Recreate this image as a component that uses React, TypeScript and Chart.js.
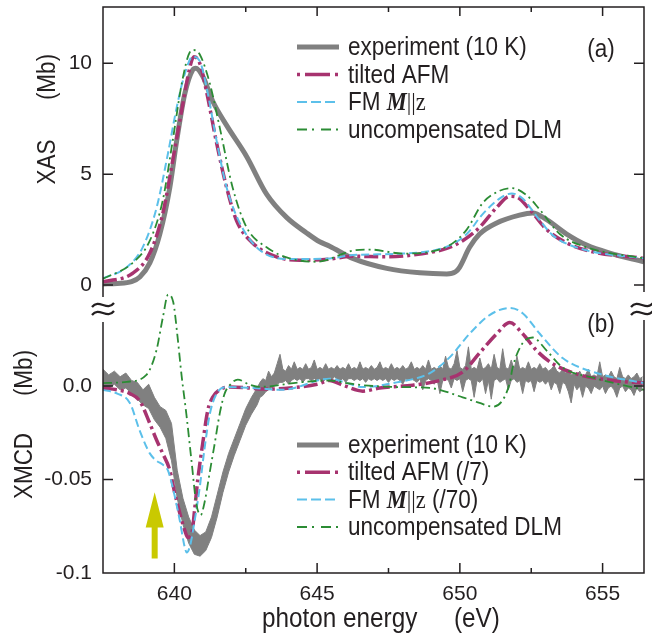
import React, { useEffect, useRef } from 'react';
import { Chart, registerables } from 'chart.js';

Chart.register(...registerables);

// ---------------- axis ranges and ticks ----------------
const X_MIN = 637.5;
const X_MAX = 656.45;
const XAS_MIN = -0.54;
const XAS_MAX = 12.54;
const XMCD_MIN = -0.1;
const XMCD_MAX = 0.0343;

const xMajorTicks = [640, 645, 650, 655];
const xMinorTicks = [642.5, 647.5, 652.5];
const xTickLabels = ['640', '645', '650', '655'];
const xasTicks = [0, 5, 10];
const xasTickLabels = ['0', '5', '10'];
const xmcdTicks = [-0.1, -0.05, 0];
const xmcdTickLabels = ['-0.1', '-0.05', '0.0'];

// ---------------- panel (a) XAS ----------------
const xasExpE = [637.5, 638.0, 638.5, 638.79, 639.14, 639.49, 639.84, 640.08, 640.36, 640.64, 640.75, 641.0, 641.34, 641.83, 642.53, 643.23, 643.93, 644.63, 645.09, 645.44, 646.25, 647.44, 648.6, 649.54, 649.85, 649.99, 650.34, 650.69, 651.29, 652.09, 652.55, 653.04, 653.74, 654.44, 655.25, 656.45];
const xasExpY = [0.05, 0.07, 0.15, 0.36, 1.0, 2.3, 4.4, 6.5, 8.6, 9.7, 9.78, 9.4, 8.3, 7.2, 5.8, 4.1, 3.05, 2.35, 1.95, 1.75, 1.2, 0.75, 0.55, 0.5, 0.6, 0.8, 1.7, 2.3, 2.8, 3.15, 3.25, 2.95, 2.3, 1.8, 1.44, 1.05];

const xasAfmE = [637.5, 638.54, 639.14, 639.59, 639.94, 640.26, 640.54, 640.68, 640.89, 641.13, 641.48, 641.83, 642.18, 642.74, 643.58, 644.39, 645.44, 646.25, 647.44, 648.6, 649.54, 650.1, 650.69, 651.29, 651.75, 651.99, 652.45, 653.04, 653.74, 654.65, 656.45];
const xasAfmY = [0.14, 0.53, 1.44, 3.2, 5.6, 7.9, 9.8, 10.3, 10.0, 8.7, 6.4, 4.4, 2.9, 1.9, 1.27, 1.12, 1.17, 1.3, 1.27, 1.4, 1.65, 2.0, 2.6, 3.5, 4.0, 3.97, 3.4, 2.5, 1.9, 1.5, 1.2];

const xasFmE = [637.5, 638.33, 638.89, 639.38, 639.77, 640.08, 640.36, 640.64, 640.89, 641.13, 641.48, 641.83, 642.29, 642.99, 644.14, 645.44, 646.25, 648.0, 649.54, 650.24, 650.8, 651.39, 651.82, 652.2, 652.69, 653.25, 654.2, 656.45];
const xasFmY = [0.3, 0.8, 1.7, 3.5, 5.9, 8.0, 9.5, 10.3, 10.1, 8.9, 6.5, 4.4, 2.8, 1.58, 1.17, 1.2, 1.35, 1.42, 1.73, 2.3, 3.2, 3.9, 4.13, 3.9, 3.1, 2.25, 1.65, 1.2];

const xasDlmE = [637.5, 638.54, 639.14, 639.59, 639.94, 640.26, 640.54, 640.68, 640.89, 641.24, 641.59, 642.04, 642.53, 643.23, 644.04, 644.99, 646.25, 646.85, 648.0, 649.54, 650.24, 650.8, 651.39, 651.82, 652.34, 652.8, 653.5, 654.44, 656.45];
const xasDlmY = [0.28, 1.0, 2.0, 3.8, 6.5, 9.1, 10.5, 10.6, 10.4, 9.1, 7.1, 4.4, 2.6, 1.7, 1.2, 1.05, 1.55, 1.6, 1.42, 1.73, 2.5, 3.7, 4.25, 4.37, 4.05, 3.4, 2.3, 1.7, 1.2];

// ---------------- panel (b) XMCD ----------------
// experiment: noisy band given by its lower and upper edge
const xmcdExpE = [
  637.5, 637.7, 637.9, 638.1, 638.3, 638.5, 638.7, 638.9, 639.1, 639.3, 639.5, 639.7, 639.9, 640.1, 640.3, 640.5, 640.7, 640.9, 641.1, 641.3, 641.5, 641.7, 641.9, 642.1, 642.3, 642.5, 642.7, 642.9,
  643.0, 643.1, 643.2, 643.3, 643.4, 643.5, 643.6, 643.7, 643.8, 643.9,
  644.0, 644.1, 644.2, 644.3, 644.4, 644.5, 644.6, 644.7, 644.8, 644.9,
  645.0, 645.1, 645.2, 645.3, 645.4, 645.5, 645.6, 645.7, 645.8, 645.9,
  646.0, 646.1, 646.2, 646.3, 646.4, 646.5, 646.6, 646.7, 646.8, 646.9,
  647.0, 647.1, 647.2, 647.3, 647.4, 647.5, 647.6, 647.7, 647.8, 647.9,
  648.0, 648.1, 648.2, 648.3, 648.4, 648.5, 648.6, 648.7, 648.8, 648.9,
  649.0, 649.1, 649.2, 649.3, 649.4, 649.5, 649.6, 649.7, 649.8, 649.9,
  650.0, 650.1, 650.2, 650.3, 650.4, 650.5, 650.6, 650.7, 650.8, 650.9,
  651.0, 651.1, 651.2, 651.3, 651.4, 651.5, 651.6, 651.7, 651.8, 651.9,
  652.0, 652.1, 652.2, 652.3, 652.4, 652.5, 652.6, 652.7, 652.8, 652.9,
  653.0, 653.1, 653.2, 653.3, 653.4, 653.5, 653.6, 653.7, 653.8, 653.9,
  654.0, 654.1, 654.2, 654.3, 654.4, 654.5, 654.6, 654.7, 654.8, 654.9,
  655.0, 655.1, 655.2, 655.3, 655.4, 655.5, 655.6, 655.7, 655.8, 655.9,
  656.0, 656.1, 656.2, 656.3, 656.4,
];
const xmcdExpLo = [
  0.0, -0.001, 0.001, -0.002, -0.001, -0.004, -0.007, -0.010, -0.012, -0.018, -0.022, -0.028, -0.040, -0.060, -0.074, -0.084, -0.090, -0.091, -0.088, -0.081, -0.070, -0.057, -0.046, -0.037, -0.029, -0.021, -0.015, -0.010,
  -0.006, -0.005, -0.003, -0.002, -0.001, 0.000, 0.001, 0.002, 0.002, 0.003,
  0.001, 0.003, 0.004, 0.003, 0.004, 0.002, 0.004, 0.004, 0.003, 0.004,
  0.003, 0.004, 0.002, 0.004, 0.004, 0.003, 0.005, 0.004, 0.003, 0.004,
  0.002, 0.004, 0.004, 0.003, 0.004, 0.003, 0.004, 0.002, 0.004, 0.003,
  0.004, 0.003, 0.004, 0.003, 0.004, 0.002, 0.004, 0.003, 0.004, 0.003,
  0.001, 0.004, 0.003, 0.004, 0.003, 0.002, 0.004, -0.002, 0.003, 0.004,
  0.003, 0.001, 0.004, -0.004, 0.003, 0.004, 0.003, -0.001, 0.004, 0.003,
  0.004, -0.003, 0.003, 0.004, 0.003, -0.006, 0.003, 0.002, 0.004, -0.004,
  0.003, -0.007, 0.003, 0.004, 0.002, 0.003, 0.004, -0.002, 0.003, 0.004,
  0.002, 0.003, -0.004, 0.003, 0.002, 0.003, -0.003, 0.003, 0.002, 0.003,
  0.001, 0.003, -0.002, 0.002, 0.001, -0.004, 0.002, 0.001, -0.003, -0.009,
  0.001, -0.002, 0.000, -0.006, 0.000, -0.001, -0.004, 0.000, -0.001, -0.002,
  0.000, -0.004, -0.001, 0.000, -0.002, -0.006, -0.001, 0.000, -0.003, -0.001,
  -0.002, -0.005, -0.001, -0.003, -0.002,
];
const xmcdExpHi = [
  0.009, 0.006, 0.008, 0.005, 0.007, 0.003, 0.002, -0.002, 0.001, -0.006, -0.011, -0.013, -0.020, -0.045, -0.060, -0.070, -0.077, -0.080, -0.078, -0.070, -0.058, -0.046, -0.036, -0.028, -0.020, -0.012, -0.006, -0.001,
  0.002, 0.004, 0.003, 0.008, 0.005, 0.007, 0.012, 0.017, 0.009, 0.008,
  0.011, 0.009, 0.013, 0.009, 0.010, 0.009, 0.012, 0.009, 0.010, 0.014,
  0.009, 0.010, 0.009, 0.012, 0.009, 0.010, 0.009, 0.011, 0.009, 0.010,
  0.009, 0.012, 0.009, 0.010, 0.009, 0.013, 0.009, 0.010, 0.009, 0.011,
  0.009, 0.010, 0.013, 0.009, 0.010, 0.009, 0.012, 0.009, 0.010, 0.009,
  0.011, 0.009, 0.010, 0.013, 0.009, 0.010, 0.009, 0.011, 0.009, 0.014,
  0.009, 0.010, 0.009, 0.011, 0.009, 0.016, 0.010, 0.009, 0.012, 0.019,
  0.010, 0.009, 0.011, 0.021, 0.009, 0.010, 0.009, 0.015, 0.009, 0.010,
  0.012, 0.009, 0.017, 0.010, 0.009, 0.020, 0.010, 0.009, 0.014, 0.009,
  0.016, 0.009, 0.010, 0.009, 0.013, 0.009, 0.010, 0.009, 0.012, 0.009,
  0.010, 0.008, 0.009, 0.011, 0.008, 0.007, 0.009, 0.007, 0.008, 0.006,
  0.007, 0.006, 0.008, 0.005, 0.006, 0.009, 0.005, 0.006, 0.005, 0.013,
  0.005, 0.006, 0.005, 0.008, 0.005, 0.004, 0.010, 0.005, 0.004, 0.006,
  0.004, 0.005, 0.007, 0.004, 0.005,
];

const xmcdAfmE = [637.5, 638.0, 638.44, 638.79, 639.14, 639.38, 639.59, 639.84, 640.01, 640.19, 640.36, 640.47, 640.61, 640.71, 640.82, 640.99, 641.17, 641.34, 641.59, 641.94, 642.6, 643.09, 644.04, 645.0, 645.44, 645.9, 646.6, 647.19, 648.35, 649.29, 650.1, 650.69, 651.29, 651.75, 652.2, 652.69, 653.25, 654.2, 655.35, 656.45];
const xmcdAfmY = [-0.001, -0.002, -0.004, -0.008, -0.020, -0.029, -0.036, -0.045, -0.057, -0.068, -0.077, -0.081, -0.079, -0.066, -0.050, -0.031, -0.013, -0.006, -0.002, -0.0005, -0.001, -0.0016, -0.001, 0.001, 0.003, 0.0005, -0.0027, -0.001, 0.0005, 0.003, 0.0075, 0.0177, 0.028, 0.034, 0.028, 0.019, 0.012, 0.006, 0.003, 0.0016];

const xmcdFmE = [637.5, 638.0, 638.44, 638.79, 639.14, 639.38, 639.59, 639.77, 639.94, 640.19, 640.36, 640.43, 640.54, 640.71, 640.89, 641.06, 641.24, 641.48, 641.83, 642.74, 643.79, 645.44, 646.04, 646.6, 647.79, 648.95, 649.65, 650.34, 651.04, 651.75, 652.2, 652.8, 653.6, 654.79, 656.45];
const xmcdFmY = [-0.002, -0.004, -0.009, -0.024, -0.036, -0.040, -0.042, -0.045, -0.054, -0.072, -0.086, -0.089, -0.086, -0.072, -0.054, -0.033, -0.015, -0.004, -0.0005, -0.001, -0.002, 0.004, 0.0016, -0.0005, 0.002, 0.007, 0.0155, 0.028, 0.038, 0.0418, 0.039, 0.028, 0.015, 0.007, 0.0016];

const xmcdDlmE = [637.5, 638.33, 639.02, 639.37, 639.6, 639.78, 639.96, 640.1, 640.25, 640.42, 640.6, 640.77, 640.92, 641.06, 641.24, 641.41, 641.59, 641.76, 641.94, 642.22, 642.6, 642.99, 644.39, 645.44, 646.04, 646.6, 647.79, 648.95, 650.1, 650.69, 651.15, 651.5, 651.75, 651.85, 652.2, 652.55, 653.04, 653.6, 654.79, 656.45];
const xmcdDlmY = [0.0016, 0.0023, 0.006, 0.019, 0.037, 0.049, 0.045, 0.028, 0.006, -0.015, -0.040, -0.063, -0.069, -0.062, -0.046, -0.031, -0.0146, -0.004, 0.0005, 0.0035, 0.001, -0.0004, 0.002, 0.003, 0.0016, 0.0005, -0.0005, -0.001, -0.006, -0.009, -0.011, -0.0075, 0.002, 0.010, 0.023, 0.026, 0.019, 0.010, 0.004, -0.002];

// arrow annotation (eV, XMCD units)
const ARROW_E = 639.31;
const ARROW_TIP = -0.0568;
const ARROW_HEAD = -0.0756;
const ARROW_BASE = -0.0922;

// ---------------- styles ----------------
const SANS = '"Liberation Sans", Arial, Helvetica, sans-serif';
const SERIF = '"Liberation Serif", "Times New Roman", serif';
const INK = '#231f20';
const GRAY = '#808080';
const MAGENTA = '#a7336f';
const BLUE = '#5cc0ea';
const GREEN = '#2b8c34';
const YELLOW = '#c9c900';
const SQ = 0.9; // horizontal squeeze for text

const xy = (xs: number[], ys: number[]) => xs.map((x, i) => ({ x, y: ys[i] }));

function txt(ctx: CanvasRenderingContext2D, s: string, x: number, y: number, font: string, align: CanvasTextAlign = 'left', baseline: CanvasTextBaseline = 'alphabetic', rot = 0) {
  ctx.save();
  ctx.translate(x, y);
  if (rot) ctx.rotate(rot);
  ctx.scale(SQ, 1);
  ctx.font = font;
  ctx.fillStyle = INK;
  ctx.textAlign = align;
  ctx.textBaseline = baseline;
  ctx.fillText(s, 0, 0);
  const w = ctx.measureText(s).width * SQ;
  ctx.restore();
  return w;
}

type Part = { t: string; f: string };
type Row = { color: string; width: number; dash: number[]; parts: Part[] };

const F = `25px ${SANS}`;
const FM_ITAL = `italic bold 25px ${SERIF}`;
const FM_SERIF = `25px ${SERIF}`;

function drawLegend(ctx: CanvasRenderingContext2D, rows: Row[], baselines: number[]) {
  rows.forEach((r, i) => {
    const b = baselines[i];
    const ly = b - 8;
    ctx.save();
    ctx.strokeStyle = r.color;
    ctx.lineWidth = r.width;
    ctx.setLineDash(r.dash);
    ctx.beginPath();
    ctx.moveTo(297, ly);
    ctx.lineTo(339, ly);
    ctx.stroke();
    ctx.restore();
    let x = 348;
    r.parts.forEach((p) => {
      x += txt(ctx, p.t, x, b, p.f);
    });
  });
}

function tilde(ctx: CanvasRenderingContext2D, cx: number, cy: number) {
  ctx.save();
  ctx.strokeStyle = INK;
  ctx.lineWidth = 2.2;
  [cy - 4, cy + 4].forEach((yc) => {
    ctx.beginPath();
    ctx.moveTo(cx - 11, yc + 2);
    ctx.bezierCurveTo(cx - 4, yc - 7, cx + 4, yc + 7, cx + 11, yc - 2);
    ctx.stroke();
  });
  ctx.restore();
}

const xTickCfg = (showLabels: boolean) => ({
  type: 'linear' as const,
  min: X_MIN,
  max: X_MAX,
  grid: { display: false, drawTicks: false },
  border: { display: false },
  afterBuildTicks: (s: any) => {
    s.ticks = [...xMajorTicks, ...xMinorTicks].sort((a, b) => a - b).map((v) => ({ value: v }));
  },
  afterFit: (s: any) => {
    s.paddingLeft = 0;
    s.paddingRight = 0;
    s.height = showLabels ? 66 : 0;
  },
  ticks: {
    display: showLabels,
    padding: 9,
    color: INK,
    font: { family: SANS, size: 21 },
    maxRotation: 0,
    autoSkip: false,
    callback: (v: any) => {
      const i = xMajorTicks.indexOf(Number(v));
      return i >= 0 ? xTickLabels[i] : '';
    },
  },
});

const yTickCfg = (min: number, max: number, vals: number[], labels: string[]) => ({
  type: 'linear' as const,
  min,
  max,
  grid: { display: false, drawTicks: false },
  border: { display: false },
  afterBuildTicks: (s: any) => {
    s.ticks = vals.map((v) => ({ value: v }));
  },
  afterFit: (s: any) => {
    s.width = 103;
    s.paddingTop = 0;
    s.paddingBottom = 0;
  },
  ticks: {
    padding: 11,
    color: INK,
    font: { family: SANS, size: 21 },
    autoSkip: false,
    callback: (v: any) => {
      const i = vals.findIndex((t) => Math.abs(t - Number(v)) < 1e-9);
      return i >= 0 ? labels[i] : '';
    },
  },
});

const lineDs = (label: string, data: any[], color: string, width: number, dash: number[], order: number, clip = true) => ({
  label,
  data,
  borderColor: color,
  backgroundColor: color,
  borderWidth: width,
  borderDash: dash,
  pointRadius: 0,
  fill: false,
  cubicInterpolationMode: 'monotone' as const,
  order,
  ...(clip ? {} : { clip: false as any }),
});

const topDecor = {
  id: 'topDecor',
  afterDraw(chart: any) {
    const { ctx, chartArea: ca, scales } = chart;
    const xs = scales.x;
    const ys = scales.y;
    ctx.save();
    ctx.strokeStyle = INK;
    ctx.lineWidth = 1.5;
    ctx.beginPath();
    ctx.moveTo(ca.left, ca.bottom);
    ctx.lineTo(ca.left, ca.top);
    ctx.lineTo(ca.right, ca.top);
    ctx.lineTo(ca.right, ca.bottom - 5);
    xs.ticks.forEach((t: any) => {
      const px = xs.getPixelForValue(t.value);
      const len = xMajorTicks.includes(t.value) ? 9 : 5;
      ctx.moveTo(px, ca.top);
      ctx.lineTo(px, ca.top + len);
    });
    ys.ticks.forEach((t: any) => {
      const py = ys.getPixelForValue(t.value);
      ctx.moveTo(ca.left, py);
      ctx.lineTo(ca.left + 10, py);
      ctx.moveTo(ca.right, py);
      ctx.lineTo(ca.right - 10, py);
    });
    ctx.stroke();
    ctx.restore();

    txt(ctx, 'XAS', 55, 162, F, 'center', 'alphabetic', -Math.PI / 2);
    txt(ctx, '(Mb)', 55, 77, F, 'center', 'alphabetic', -Math.PI / 2);
    txt(ctx, '(a)', 601, 57, F, 'center', 'alphabetic');

    drawLegend(ctx, [
      { color: GRAY, width: 5, dash: [], parts: [{ t: 'experiment (10 K)', f: F }] },
      { color: MAGENTA, width: 3.5, dash: [3, 5, 25, 5], parts: [{ t: 'tilted AFM', f: F }] },
      { color: BLUE, width: 2, dash: [10, 4], parts: [{ t: 'FM ', f: F }, { t: 'M', f: FM_ITAL }, { t: '||z', f: FM_SERIF }] },
      { color: GREEN, width: 2, dash: [10, 5, 2, 7], parts: [{ t: 'uncompensated DLM', f: F }] },
    ], [55, 82.5, 110, 137.5]);
  },
};

const OFF = 285; // page y of bottom canvas

const botDecor = {
  id: 'botDecor',
  afterDatasetsDraw(chart: any) {
    const { ctx, scales } = chart;
    const xs = scales.x;
    const ys = scales.y;
    const cx = xs.getPixelForValue(ARROW_E);
    const yt = ys.getPixelForValue(ARROW_TIP);
    const yh = ys.getPixelForValue(ARROW_HEAD);
    const yb = ys.getPixelForValue(ARROW_BASE);
    ctx.save();
    ctx.fillStyle = YELLOW;
    ctx.beginPath();
    ctx.moveTo(cx, yt);
    ctx.lineTo(cx + 9, yh);
    ctx.lineTo(cx + 3, yh);
    ctx.lineTo(cx + 3, yb);
    ctx.lineTo(cx - 3, yb);
    ctx.lineTo(cx - 3, yh);
    ctx.lineTo(cx - 9, yh);
    ctx.closePath();
    ctx.fill();
    ctx.restore();
  },
  afterDraw(chart: any) {
    const { ctx, chartArea: ca, scales } = chart;
    const xs = scales.x;
    const ys = scales.y;
    ctx.save();
    ctx.strokeStyle = INK;
    ctx.lineWidth = 1.5;
    ctx.beginPath();
    ctx.moveTo(ca.left, ca.top);
    ctx.lineTo(ca.left, ca.bottom);
    ctx.lineTo(ca.right, ca.bottom);
    ctx.lineTo(ca.right, ca.top - 2);
    xs.ticks.forEach((t: any) => {
      const px = xs.getPixelForValue(t.value);
      const len = xMajorTicks.includes(t.value) ? 10 : 5;
      ctx.moveTo(px, ca.bottom);
      ctx.lineTo(px, ca.bottom - len);
    });
    ys.ticks.forEach((t: any) => {
      const py = ys.getPixelForValue(t.value);
      ctx.moveTo(ca.left, py);
      ctx.lineTo(ca.left + 10, py);
      ctx.moveTo(ca.right, py);
      ctx.lineTo(ca.right - 10, py);
    });
    ctx.stroke();
    ctx.restore();

    tilde(ctx, ca.left, 309 - OFF);
    tilde(ctx, ca.right - 2, 309 - OFF);

    txt(ctx, 'XMCD', 32, 466 - OFF, F, 'center', 'alphabetic', -Math.PI / 2);
    txt(ctx, '(Mb)', 32, 373 - OFF, F, 'center', 'alphabetic', -Math.PI / 2);
    txt(ctx, '(b)', 601, 332 - OFF, F, 'center', 'alphabetic');
    txt(ctx, 'photon energy', 262, 627 - OFF, `27px ${SANS}`);
    txt(ctx, '(eV)', 454, 627 - OFF, `27px ${SANS}`);

    drawLegend(ctx, [
      { color: GRAY, width: 5, dash: [], parts: [{ t: 'experiment (10 K)', f: F }] },
      { color: MAGENTA, width: 3.5, dash: [3, 5, 25, 5], parts: [{ t: 'tilted AFM (/7)', f: F }] },
      { color: BLUE, width: 2, dash: [10, 4], parts: [{ t: 'FM ', f: F }, { t: 'M', f: FM_ITAL }, { t: '||z', f: FM_SERIF }, { t: ' (/70)', f: F }] },
      { color: GREEN, width: 2, dash: [10, 5, 2, 7], parts: [{ t: 'uncompensated DLM', f: F }] },
    ], [453 - OFF, 480.3 - OFF, 507.6 - OFF, 535 - OFF]);
  },
};

export default function App() {
  const topRef = useRef<HTMLCanvasElement>(null);
  const botRef = useRef<HTMLCanvasElement>(null);

  useEffect(() => {
    const top = new Chart(topRef.current as HTMLCanvasElement, {
      type: 'line',
      data: {
        datasets: [
          lineDs('experiment (10 K)', xy(xasExpE, xasExpY), GRAY, 5, [], 10),
          lineDs('tilted AFM', xy(xasAfmE, xasAfmY), MAGENTA, 3.5, [14, 4, 3, 4], 3),
          lineDs('FM M||z', xy(xasFmE, xasFmY), BLUE, 2, [8, 4], 2),
          lineDs('uncompensated DLM', xy(xasDlmE, xasDlmY), GREEN, 1.8, [9, 4, 2, 4], 1),
        ] as any,
      },
      options: {
        animation: false,
        responsive: false,
        events: [],
        layout: { padding: { top: 7, right: 8, bottom: 3, left: 0 } },
        plugins: { legend: { display: false }, tooltip: { enabled: false } },
        scales: {
          x: xTickCfg(false) as any,
          y: yTickCfg(XAS_MIN, XAS_MAX, xasTicks, xasTickLabels) as any,
        },
      },
      plugins: [topDecor],
    });

    const bot = new Chart(botRef.current as HTMLCanvasElement, {
      type: 'line',
      data: {
        datasets: [
          {
            label: 'experiment hi',
            data: xy(xmcdExpE, xmcdExpHi),
            borderColor: GRAY,
            backgroundColor: GRAY,
            borderWidth: 1,
            pointRadius: 0,
            fill: '+1',
            tension: 0,
            order: 10,
          },
          {
            label: 'experiment lo',
            data: xy(xmcdExpE, xmcdExpLo),
            borderColor: GRAY,
            backgroundColor: GRAY,
            borderWidth: 1,
            pointRadius: 0,
            fill: false,
            tension: 0,
            order: 10,
          },
          lineDs('tilted AFM (/7)', xy(xmcdAfmE, xmcdAfmY), MAGENTA, 3.5, [14, 4, 3, 4], 3, false),
          lineDs('FM M||z (/70)', xy(xmcdFmE, xmcdFmY), BLUE, 2, [8, 4], 2, false),
          lineDs('uncompensated DLM', xy(xmcdDlmE, xmcdDlmY), GREEN, 1.8, [9, 4, 2, 4], 1, false),
        ] as any,
      },
      options: {
        animation: false,
        responsive: false,
        events: [],
        layout: { padding: { top: 37, right: 8, bottom: 0, left: 0 } },
        plugins: { legend: { display: false }, tooltip: { enabled: false } },
        scales: {
          x: xTickCfg(true) as any,
          y: yTickCfg(XMCD_MIN, XMCD_MAX, xmcdTicks, xmcdTickLabels) as any,
        },
      },
      plugins: [botDecor],
    });

    return () => {
      top.destroy();
      bot.destroy();
    };
  }, []);

  return (
    <div style={{ position: 'fixed', left: 0, top: 0, width: 652, height: 639, background: '#fff', overflow: 'hidden' }}>
      <canvas ref={topRef} width={652} height={300} style={{ position: 'absolute', left: 0, top: 0 }} />
      <canvas ref={botRef} width={652} height={354} style={{ position: 'absolute', left: 0, top: OFF }} />
    </div>
  );
}
